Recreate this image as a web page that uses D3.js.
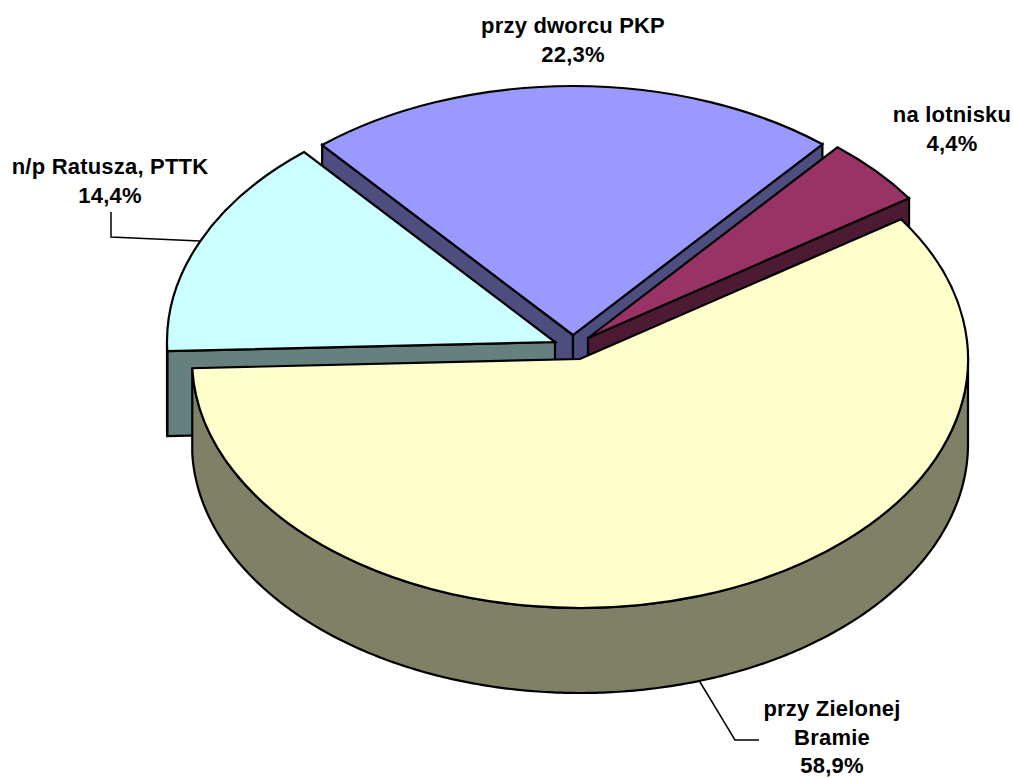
<!DOCTYPE html>
<html>
<head>
<meta charset="utf-8">
<style>
  html, body { margin: 0; padding: 0; background: #fff; }
  svg { display: block; }
  text { font-family: "Liberation Sans", Arial, sans-serif; font-weight: bold; font-size: 22px; letter-spacing: 0.2px; fill: #000; text-anchor: middle; }
</style>
</head>
<body>
<svg width="1013" height="778"></svg>
<script src="https://d3js.org/d3.v7.min.js"></script>
<script>

// data, in the order the slices run clockwise
var categories = ["na lotnisku", "przy Zielonej Bramie", "n/p Ratusza, PTTK", "przy dworcu PKP"],
    shares = [4.4, 58.9, 14.4, 22.3];

var topColors = ["#993366", "#ffffcc", "#ccffff", "#9999ff"],
    wallColors = ["#4d1a33", "#808066", "#668080", "#4d4d80"];

// layout of the tilted pie
var cx = 580, cy = 359, rx = 388, ry = 249, depth = 85,
    firstAngle = 40 * Math.PI / 180;

var explode = [[8, -21], [0, 0], [-25, -17], [-7, -24]], // pulled out slices
    drawOrder = [3, 0, 2, 1];

var labelLines = [["na lotnisku"], ["przy Zielonej", "Bramie"], ["n/p Ratusza, PTTK"], ["przy dworcu PKP"]],
    labelPos = [[952, 122], [832, 716], [110, 174], [573, 33]],
    leaders = [null, [[700, 682], [735, 740], [759, 740]], [[111, 212], [111, 237], [200, 241]], null];

var svg = d3.select("svg");

var pct = d3.formatLocale({decimal: ",", thousands: " ", grouping: [3], currency: ["", ""]}).format(".1f");

var pie = d3.pie()
    .sort(null)
    .startAngle(firstAngle)
    .endAngle(firstAngle + 2 * Math.PI);

var slices = pie(shares);

var arc = d3.arc()
    .innerRadius(0)
    .outerRadius(rx);

var line = d3.line();

function project(a, dy) {
  return [rx * Math.sin(a), dy - ry * Math.cos(a)];
}

// the visible part of the rim, only where the edge faces the viewer
function rimPath(d) {
  var a0 = Math.max(d.startAngle, Math.PI / 2),
      a1 = Math.min(d.endAngle, 3 * Math.PI / 2);
  if (a1 <= a0) return null;
  var angles = d3.range(a0, a1, 0.01).concat([a1]),
      top = angles.map(function(a) { return project(a, 0); }),
      bottom = angles.map(function(a) { return project(a, depth); }).reverse();
  return line(top.concat(bottom)) + "Z";
}

function sidePath(a) {
  var p = project(a, 0);
  return line([[0, 0], p, [p[0], p[1] + depth], [0, depth]]) + "Z";
}

var slice = svg.selectAll("g.slice")
  .data(drawOrder)
  .enter().append("g")
    .attr("class", "slice")
    .attr("transform", function(i) { return "translate(" + (cx + explode[i][0]) + "," + (cy + explode[i][1]) + ")"; })
    .attr("stroke", "#000")
    .attr("stroke-width", 2.2);

// a cut face shows only when it turns towards the viewer
slice.filter(function(i) { return Math.sin(slices[i].startAngle) < 0; }).append("path")
    .attr("d", function(i) { return sidePath(slices[i].startAngle); })
    .attr("fill", function(i) { return wallColors[i]; });

slice.filter(function(i) { return Math.sin(slices[i].endAngle) > 0; }).append("path")
    .attr("d", function(i) { return sidePath(slices[i].endAngle); })
    .attr("fill", function(i) { return wallColors[i]; });

slice.filter(function(i) { return rimPath(slices[i]); }).append("path")
    .attr("d", function(i) { return rimPath(slices[i]); })
    .attr("fill", function(i) { return wallColors[i]; });

slice.append("path")
    .attr("d", function(i) { return arc(slices[i]); })
    .attr("transform", "scale(1," + (ry / rx) + ")")
    .attr("vector-effect", "non-scaling-stroke")
    .attr("fill", function(i) { return topColors[i]; });

// leader lines
svg.selectAll("path.leader")
  .data(leaders.filter(Boolean))
  .enter().append("path")
    .attr("class", "leader")
    .attr("d", line)
    .attr("fill", "none")
    .attr("stroke", "#000")
    .attr("stroke-width", 1.5);

// labels, name lines then the percentage
var label = svg.selectAll("text")
  .data(categories)
  .enter().append("text")
    .attr("transform", function(d, i) { return "translate(" + labelPos[i] + ")"; });

label.selectAll("tspan")
  .data(function(d, i) { return labelLines[i].concat(pct(shares[i]) + "%"); })
  .enter().append("tspan")
    .attr("x", 0)
    .attr("y", function(d, j) { return j * 28.7; })
    .text(function(d) { return d; });

</script>
</body>
</html>
